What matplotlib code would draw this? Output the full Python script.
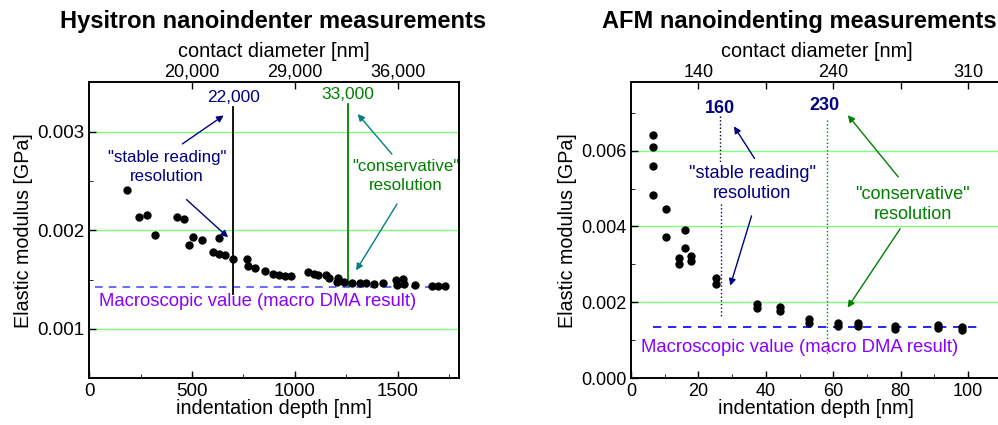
import numpy as np
import matplotlib
matplotlib.use('Agg')
import matplotlib.pyplot as plt
from matplotlib.ticker import MultipleLocator

plt.rcParams['font.family'] = ['Liberation Sans', 'DejaVu Sans']
plt.rcParams['xtick.direction'] = 'in'
plt.rcParams['ytick.direction'] = 'in'

# Hysitron nanoindenter: depth [nm] vs elastic modulus [GPa]
hys_depth = [182, 242, 279, 321, 425, 463, 484, 506, 550, 632, 602, 633, 661, 701,
             769, 773, 804, 857, 893, 925, 953, 981, 1065, 1091, 1112, 1153, 1166,
             1208, 1205, 1237, 1278, 1318, 1344, 1383, 1429, 1492, 1497, 1526, 1529,
             1586, 1667, 1696, 1732]
hys_modulus = [0.00241, 0.00213, 0.00215, 0.00195, 0.00213, 0.00211, 0.00185, 0.00193,
               0.00190, 0.00192, 0.00178, 0.00176, 0.00175, 0.00171, 0.00171, 0.00164,
               0.00162, 0.00159, 0.00156, 0.00155, 0.00154, 0.00154, 0.00158, 0.00156,
               0.00155, 0.00155, 0.00152, 0.00152, 0.00148, 0.00148, 0.00147, 0.00147,
               0.00147, 0.00146, 0.00147, 0.00150, 0.00145, 0.00151, 0.00146, 0.00145,
               0.00144, 0.00144, 0.00144]
hys_macro = 0.00143
hys_top_ticks = [500, 1000, 1500]
hys_top_labels = ['20,000', '29,000', '36,000']

# AFM nanoindenting: depth [nm] vs elastic modulus [GPa]
afm_depth = [6.4, 6.4, 6.4, 6.4, 10.4, 10.4, 14.1, 14.1, 15.9, 15.9, 17.7, 17.7,
             25.2, 25.2, 37.3, 37.3, 44.2, 44.2, 52.8, 52.8, 61.3, 61.3, 67.3, 67.3,
             78.2, 78.2, 91.2, 91.2, 98.3, 98.3]
afm_modulus = [0.00641, 0.00610, 0.00560, 0.00483, 0.00447, 0.00371, 0.00316, 0.00302,
               0.00391, 0.00343, 0.00323, 0.00309, 0.00263, 0.00249, 0.00196, 0.00186,
               0.00187, 0.00178, 0.00156, 0.00147, 0.00147, 0.00138, 0.00147, 0.00138,
               0.00138, 0.00129, 0.00141, 0.00133, 0.00134, 0.00127]
afm_macro = 0.00134
afm_top_ticks = [20, 40, 60, 80, 100]
afm_top_labels = ['140', '', '240', '', '310']

navy = '#000080'
green = '#008000'
teal = '#008080'
purple = '#8800ff'
grid_green = '#80ff80'

fig = plt.figure(figsize=(9.98, 4.25), dpi=100)
ax1 = fig.add_axes([0.0895, 0.1099, 0.3707, 0.6965])
ax2 = fig.add_axes([0.6323, 0.1099, 0.3715, 0.6965])

arrow_kw = dict(arrowstyle='-|>', lw=1, mutation_scale=10)

# ---- left: Hysitron ----
ax1.set_xlim(0, 1800)
ax1.set_ylim(0.0005, 0.0035)
for y in [0.001, 0.002, 0.003]:
    ax1.axhline(y, color=grid_green, lw=1, zorder=0)
ax1.plot([30, 1750], [hys_macro, hys_macro], ls=(0, (5, 4)), color='#4040ff', lw=1.1, zorder=1)
ax1.scatter(hys_depth, hys_modulus, s=36, color='black', zorder=3, linewidths=0)
ax1.plot([700, 700], [0.00325, 0.00135], color='black', lw=1.3, zorder=2)
ax1.plot([1260, 1260], [0.00328, 0.00144], color=green, lw=1.3, zorder=2)
ax1.text(700, 0.00327, '22,000', color=navy, fontsize=12.5, ha='center', va='bottom')
ax1.text(1260, 0.00330, '33,000', color=green, fontsize=12.5, ha='center', va='bottom')
ax1.text(378, 0.00264, '"stable reading"\nresolution', color=navy, fontsize=12.2,
         ha='center', va='center', linespacing=1.3)
ax1.text(1538, 0.00255, '"conservative"\nresolution', color=green, fontsize=12.2,
         ha='center', va='center', linespacing=1.3)
ax1.text(820, 0.00128, 'Macroscopic value (macro DMA result)', color=purple,
         fontsize=13.3, ha='center', va='center')
ax1.annotate('', xy=(665, 0.00318), xytext=(442, 0.00286),
             arrowprops=dict(color=navy, **arrow_kw))
ax1.annotate('', xy=(685, 0.00191), xytext=(463, 0.00233),
             arrowprops=dict(color=navy, **arrow_kw))
ax1.annotate('', xy=(1297, 0.00320), xytext=(1481, 0.00275),
             arrowprops=dict(color=teal, **arrow_kw))
ax1.annotate('', xy=(1291, 0.00157), xytext=(1504, 0.00229),
             arrowprops=dict(color=teal, **arrow_kw))

ax1.xaxis.set_major_locator(MultipleLocator(500))
ax1.xaxis.set_minor_locator(MultipleLocator(250))
ax1.set_yticks([0.001, 0.002, 0.003])
ax1.set_yticklabels(['0.001', '0.002', '0.003'])
ax1.yaxis.set_minor_locator(MultipleLocator(0.0005))
ax1.tick_params(labelsize=13.5)
ax1.set_xlabel('indentation depth [nm]', fontsize=14.2, labelpad=-1)
ax1.set_ylabel('Elastic modulus [GPa]', fontsize=14.2, labelpad=3)
top1 = ax1.twiny()
top1.set_xlim(ax1.get_xlim())
top1.set_xticks(hys_top_ticks)
top1.set_xticklabels(hys_top_labels)
top1.tick_params(labelsize=13, pad=1)
top1.set_xlabel('contact diameter [nm]', fontsize=14.3, labelpad=5)
fig.text(0.2738, 0.95, 'Hysitron nanoindenter measurements', fontsize=17,
         fontweight='bold', ha='center', va='center')

# ---- right: AFM ----
ax2.set_xlim(0, 110)
ax2.set_ylim(0, 0.0078)
for y in [0.002, 0.004, 0.006]:
    ax2.axhline(y, color=grid_green, lw=1, zorder=0)
ax2.plot([6.4, 103.6], [afm_macro, afm_macro], ls=(0, (5, 4)), color='#0000ff', lw=1.2, zorder=1)
ax2.scatter(afm_depth, afm_modulus, s=36, color='black', zorder=3, linewidths=0)
ax2.plot([26.4, 26.4], [0.0069, 0.0057], color='black', ls=':', lw=1, zorder=2)
ax2.plot([26.6, 26.6], [0.0046, 0.00158], color=navy, ls=':', lw=1, zorder=2)
ax2.plot([58.1, 58.1], [0.0068, 0.00065], color=green, ls=':', lw=1, zorder=2)
ax2.text(26.4, 0.00712, '160', color=navy, fontsize=13, fontweight='bold', ha='center', va='center')
ax2.text(57.4, 0.00718, '230', color=navy, fontsize=13, fontweight='bold', ha='center', va='center')
ax2.text(36.0, 0.00513, '"stable reading"\nresolution', color=navy, fontsize=13.1,
         ha='center', va='center', linespacing=1.25)
ax2.text(83.5, 0.00458, '"conservative"\nresolution', color=green, fontsize=13.1,
         ha='center', va='center', linespacing=1.25)
ax2.text(50.0, 0.00081, 'Macroscopic value (macro DMA result)', color=purple,
         fontsize=13.3, ha='center', va='center')
ax2.annotate('', xy=(30.1, 0.0067), xytext=(37.1, 0.00573),
             arrowprops=dict(color=navy, **arrow_kw))
ax2.annotate('', xy=(29.2, 0.00237), xytext=(36.0, 0.00435),
             arrowprops=dict(color=navy, **arrow_kw))
ax2.annotate('', xy=(63.8, 0.00699), xytext=(79.8, 0.00525),
             arrowprops=dict(color=green, **arrow_kw))
ax2.annotate('', xy=(63.8, 0.0018), xytext=(80.3, 0.0040),
             arrowprops=dict(color=green, **arrow_kw))

ax2.xaxis.set_major_locator(MultipleLocator(20))
ax2.xaxis.set_minor_locator(MultipleLocator(10))
ax2.set_yticks([0.000, 0.002, 0.004, 0.006])
ax2.set_yticklabels(['0.000', '0.002', '0.004', '0.006'])
ax2.yaxis.set_minor_locator(MultipleLocator(0.001))
ax2.tick_params(labelsize=13)
ax2.set_xlabel('indentation depth [nm]', fontsize=14.2, labelpad=-1)
ax2.set_ylabel('Elastic modulus [GPa]', fontsize=14.2, labelpad=3)
top2 = ax2.twiny()
top2.set_xlim(ax2.get_xlim())
top2.set_xticks(afm_top_ticks)
top2.set_xticklabels(afm_top_labels)
top2.tick_params(labelsize=13, pad=1)
top2.set_xlabel('contact diameter [nm]', fontsize=14.3, labelpad=5)
fig.text(0.8006, 0.95, 'AFM nanoindenting measurements', fontsize=17,
         fontweight='bold', ha='center', va='center')

for ax in [ax1, ax2, top1, top2]:
    ax.tick_params(length=5, width=1)
    ax.tick_params(which='minor', length=3)
    for sp in ax.spines.values():
        sp.set_linewidth(1.2)

fig.savefig('out.png', dpi=100)
